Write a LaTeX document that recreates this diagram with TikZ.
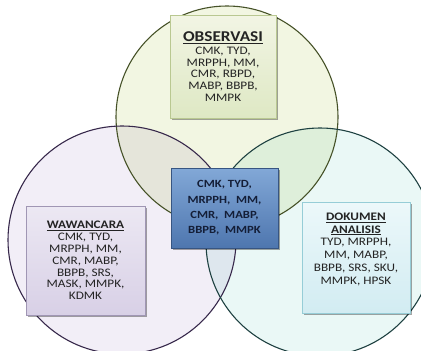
\documentclass[tikz,border=0pt]{standalone}
\usepackage{fontspec}
\setmainfont{Carlito}[FakeStretch=1.15]
\usetikzlibrary{shadows}
\definecolor{gIn}{RGB}{242,246,226}
\definecolor{gMid}{RGB}{222,234,186}
\definecolor{gOut}{RGB}{176,202,122}
\definecolor{gLine}{RGB}{70,82,40}
\definecolor{pIn}{RGB}{242,238,247}
\definecolor{pMid}{RGB}{220,210,234}
\definecolor{pOut}{RGB}{166,142,196}
\definecolor{pLine}{RGB}{55,40,75}
\definecolor{tIn}{RGB}{234,248,246}
\definecolor{tMid}{RGB}{205,236,232}
\definecolor{tOut}{RGB}{136,200,192}
\definecolor{tLine}{RGB}{30,65,65}
\pgfdeclareradialshading{gglass}{\pgfpoint{0bp}{0bp}}{color(0bp)=(gIn); color(28bp)=(gIn); color(41bp)=(gMid); color(48.5bp)=(gOut); color(50bp)=(gOut)}
\pgfdeclareradialshading{pglass}{\pgfpoint{0bp}{0bp}}{color(0bp)=(pIn); color(28bp)=(pIn); color(41bp)=(pMid); color(48.5bp)=(pOut); color(50bp)=(pOut)}
\pgfdeclareradialshading{tglass}{\pgfpoint{0bp}{0bp}}{color(0bp)=(tIn); color(28bp)=(tIn); color(41bp)=(tMid); color(48.5bp)=(tOut); color(50bp)=(tOut)}
\definecolor{txt}{RGB}{35,35,35}
\definecolor{navy}{RGB}{20,30,55}
\tikzset{
  box/.style={draw, line width=0.8pt, rectangle, align=center, inner sep=2pt, text=txt,
    font=\fontsize{11.5}{11.8}\selectfont,
    drop shadow={shadow xshift=2pt, shadow yshift=-2pt, opacity=0.35, fill=black}},
  obsbox/.style={box, minimum width=106pt, minimum height=103pt,
    draw={rgb,255:red,185;green,200;blue,145}, top color={rgb,255:red,242;green,245;blue,228}, bottom color={rgb,255:red,222;green,232;blue,196}},
  wawbox/.style={box, minimum width=119pt, minimum height=109pt,
    draw={rgb,255:red,160;green,150;blue,180}, top color={rgb,255:red,236;green,232;blue,243}, bottom color={rgb,255:red,216;green,208;blue,230}},
  dokbox/.style={box, minimum width=108pt, minimum height=111pt,
    font=\fontsize{11.5}{12.8}\selectfont,
    draw={rgb,255:red,150;green,205;blue,215}, top color={rgb,255:red,236;green,248;blue,250}, bottom color={rgb,255:red,210;green,236;blue,242}},
  cenbox/.style={box, minimum width=107pt, minimum height=80pt, text=navy,
    font=\fontsize{11}{15.3}\selectfont\bfseries,
    draw={rgb,255:red,55;green,85;blue,130}, top color={rgb,255:red,130;green,168;blue,215}, bottom color={rgb,255:red,78;green,118;blue,175}},
  ring/.style={line width=1.1pt}
}
\begin{document}
\begin{tikzpicture}[x=1pt,y=-1pt]
\useasboundingbox (0,0) rectangle (421,351);
\begin{scope}
\clip (0,0) rectangle (421,351);
\shade[shading=gglass, blend mode=multiply] (227,117) circle[radius=111pt];
\shade[shading=pglass, blend mode=multiply] (122,240) circle[radius=114pt];
\shade[shading=tglass, blend mode=multiply] (320,242) circle[radius=114pt];
\draw[ring, draw=gLine] (227,117) circle[radius=111pt];
\draw[ring, draw=pLine] (122,240) circle[radius=114pt];
\draw[ring, draw=tLine] (320,242) circle[radius=114pt];
\end{scope}
\node[obsbox] (obs) at (223,66.5) {{\fontsize{15}{16}\selectfont\bfseries\underline{OBSERVASI}}\\[1pt]CMK, TYD,\\MRPPH, MM,\\CMR, RBPD,\\MABP, BBPB,\\MMPK};
\node[wawbox] (waw) at (85.5,260.5) {{\bfseries\underline{WAWANCARA}}\\CMK, TYD,\\MRPPH, MM,\\CMR, MABP,\\BBPB, SRS,\\MASK, MMPK,\\KDMK};
\node[dokbox] (dok) at (356,257.5) {{\bfseries\underline{DOKUMEN}}\\{\bfseries\underline{ANALISIS}}\\TYD, MRPPH,\\MM, MABP,\\BBPB, SRS, SKU,\\MMPK, HPSK\\[5pt]};
\node[cenbox] (cen) at (224.5,208) {CMK, TYD,\\MRPPH,~ MM,\\CMR,~ MABP,\\BBPB,~ MMPK};
\end{tikzpicture}
\end{document}
